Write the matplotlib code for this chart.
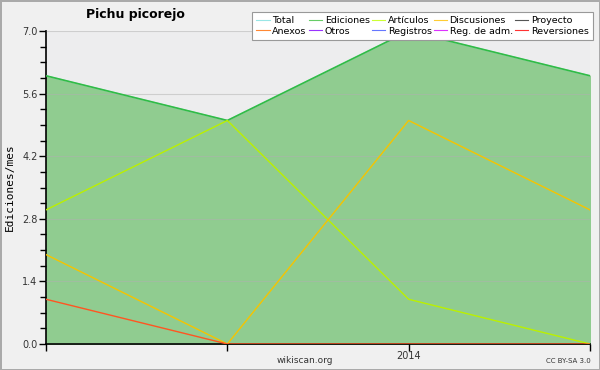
import numpy as np
import matplotlib
matplotlib.use("Agg")
import matplotlib.pyplot as plt
from matplotlib.ticker import MultipleLocator, FixedLocator, FixedFormatter

# Monthly edit counts (4 months, third month is Jan 2014)
months = [0, 1, 2, 3]
month_labels = ["", "", "2014", ""]
ediciones = [6, 5, 7, 6]
total = [6, 5, 7, 6]
articulos = [3, 5, 1, 0]
discusiones = [2, 0, 5, 3]
anexos = [1, 0, 0, 0]

legend_names = ["Total", "Anexos", "Ediciones", "Otros", "Artículos", "Registros",
                "Discusiones", "Reg. de adm.", "Proyecto", "Reversiones"]
legend_colors = ["#99e6e6", "#ff8833", "#66cc66", "#9933ff", "#ccff33", "#6677ff",
                 "#ffcc33", "#dd33ff", "#555555", "#ff3333"]

fig = plt.figure(figsize=(6, 3.7), dpi=100, facecolor="#f0f0f0",
                 edgecolor="#aaaaaa", linewidth=2)
ax = fig.add_axes([0.0767, 0.0703, 0.9066, 0.8457])
ax.set_facecolor("#ededee")

ax.fill_between(months, 0, ediciones, color="#90cc90", zorder=1)
ax.plot(months, total, color="#99e6e6", lw=1, zorder=2)
ax.plot(months, ediciones, color="#33bb44", lw=1.2, zorder=3)
ax.plot(months, articulos, color="#bbf000", lw=1, zorder=4)
ax.plot(months, discusiones, color="#f5c400", lw=1, zorder=4)
ax.plot(months, anexos, color="#ff5522", lw=1, zorder=4)

ax.set_xlim(0, 3)
ax.set_ylim(0, 7.0)
ax.yaxis.set_major_locator(MultipleLocator(1.4))
ax.yaxis.set_minor_locator(MultipleLocator(0.35))
ax.yaxis.set_major_formatter(plt.FuncFormatter(lambda v, p: f"{v:.1f}"))
ax.xaxis.set_major_locator(FixedLocator(months))
ax.xaxis.set_major_formatter(FixedFormatter(month_labels))
ax.grid(axis="y", which="major", color="#b0b0b0", lw=0.8, alpha=0.5, zorder=5)
ax.set_axisbelow(False)

for s in ["top", "right"]:
    ax.spines[s].set_visible(False)
ax.spines["left"].set_linewidth(1.2)
ax.spines["bottom"].set_linewidth(1.2)
ax.tick_params(axis="both", which="major", length=5, width=1, labelsize=7, colors="black",
               pad=1)
ax.tick_params(axis="x", which="major", pad=0)
ax.tick_params(axis="y", which="minor", length=4, width=1)
for lab in ax.get_yticklabels() + ax.get_xticklabels():
    lab.set_color("#333333")

ax.set_ylabel("Ediciones/mes", fontsize=8, family="DejaVu Sans Mono", labelpad=5)
fig.text(0.225, 0.962, "Pichu picorejo", fontsize=9, fontweight="bold", ha="center",
         va="center")
fig.text(0.508, 0.025, "wikiscan.org", fontsize=6.5, ha="center", va="center",
         color="#333333")
fig.text(0.985, 0.025, "CC BY-SA 3.0", fontsize=5, ha="right", va="center",
         color="#333333")

handles = [plt.Line2D([], [], color=c, lw=0.8) for c in legend_colors]
leg = fig.legend(handles, legend_names, ncol=5, loc="upper right",
                 bbox_to_anchor=(0.988, 0.968), fontsize=6.8, frameon=True,
                 fancybox=False, handlelength=1.4, handletextpad=0.3,
                 columnspacing=0.2, labelspacing=0.15, borderpad=0.45,
                 borderaxespad=0)
leg.get_frame().set_edgecolor("#999999")
leg.get_frame().set_linewidth(0.8)
leg.get_frame().set_alpha(1)

fig.savefig("out.png", dpi=100, facecolor=fig.get_facecolor(),
            edgecolor=fig.get_edgecolor())
